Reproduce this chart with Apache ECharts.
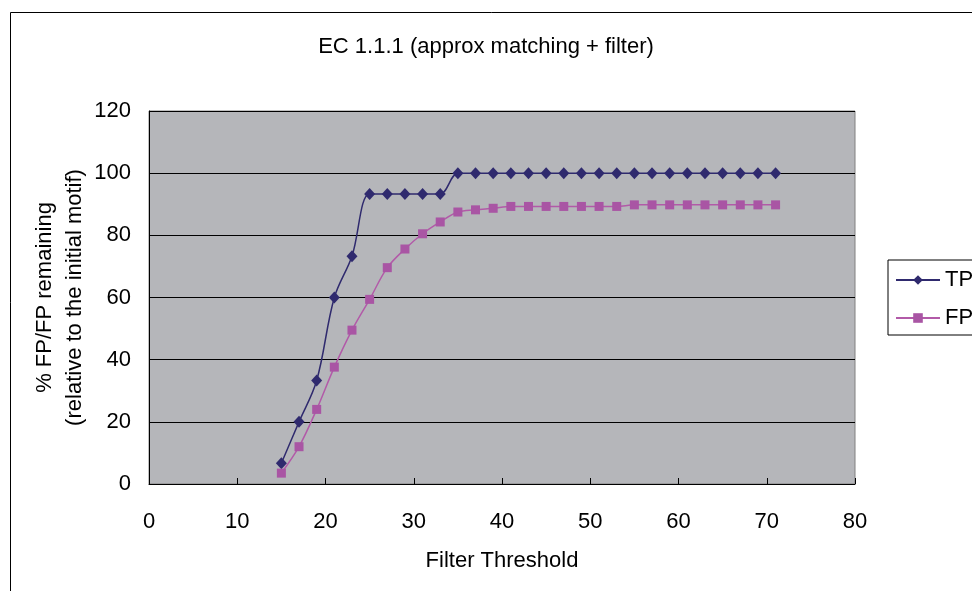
<!DOCTYPE html>
<html>
<head>
<meta charset="utf-8">
<script src="https://cdn.jsdelivr.net/npm/echarts@6/dist/echarts.min.js"></script>
<style>html,body{margin:0;padding:0;background:#fff}#c{width:972px;height:591px}</style>
</head>
<body>
<div id="c"></div>
<script>
const thresholds = [15,17,19,21,23,25,27,29,31,33,35,37,39,41,43,45,47,49,51,53,55,57,59,61,63,65,67,69,71];
const tpValues = [6.7,20,33.3,60,73.3,93.3,93.3,93.3,93.3,93.3,100,100,100,100,100,100,100,100,100,100,100,100,100,100,100,100,100,100,100];
const fpValues = [3.5,12,24,37.6,49.5,59.4,69.6,75.6,80.5,84.3,87.5,88.2,88.7,89.3,89.3,89.3,89.3,89.3,89.3,89.3,89.8,89.8,89.8,89.8,89.8,89.8,89.8,89.8,89.8];
const seriesNames = ['TP','FP'];
const titleText = 'EC 1.1.1 (approx matching + filter)';
const xName = 'Filter Threshold';
const yName = '% FP/FP remaining\n(relative to the initial motif)';

const font = '"Liberation Sans Narrow", "Arial Narrow", "Liberation Sans", Arial, sans-serif';
const chart = echarts.init(document.getElementById('c'), null, {renderer:'canvas'});
chart.setOption({
  animation: false,
  backgroundColor: '#fff',
  graphic: [{
    type: 'rect', left: 8, top: 10, z: -10, silent: true,
    shape: {width: 1100, height: 700},
    style: {fill: 'none', stroke: '#000', lineWidth: 1}
  }],
  title: {
    text: titleText, left: 'center', top: 31,
    textStyle: {fontFamily: font, fontSize: 22, fontWeight: 'normal', color: '#000'}
  },
  legend: {
    orient: 'vertical', left: 888, top: 260,
    padding: [9, 40, 6, 7], itemGap: 16,
    itemWidth: 44, itemHeight: 12,
    borderColor: '#000', borderWidth: 1, backgroundColor: '#fff',
    textStyle: {fontFamily: font, fontSize: 22, color: '#000', lineHeight: 22, padding: [0,0,0,0]},
    data: seriesNames
  },
  grid: {left: 149, top: 111, width: 706, height: 373, show: true,
    backgroundColor: '#b5b6ba', borderColor: '#808080', borderWidth: 1},
  xAxis: {
    type: 'value', min: 0, max: 80, interval: 10,
    name: xName, nameLocation: 'middle', nameGap: 66,
    nameTextStyle: {fontFamily: font, fontSize: 22, color: '#000'},
    axisLine: {show: true, lineStyle: {color: '#000', width: 1}},
    axisTick: {show: true, inside: true, length: 6, lineStyle: {color: '#000'}},
    axisLabel: {fontFamily: font, fontSize: 22, color: '#000', margin: 27},
    splitLine: {show: false}
  },
  yAxis: {
    type: 'value', min: 0, max: 120, interval: 20,
    name: yName, nameLocation: 'middle', nameGap: 59, nameRotate: 90,
    nameMoveOverlap: false,
    nameTextStyle: {fontFamily: font, fontSize: 22, color: '#000', lineHeight: 30},
    axisLine: {show: true, lineStyle: {color: '#000', width: 1}},
    axisTick: {show: true, inside: true, length: 6, lineStyle: {color: '#000'}},
    axisLabel: {fontFamily: font, fontSize: 22, color: '#000', margin: 18},
    splitLine: {show: true, lineStyle: {color: '#000', width: 1}}
  },
  series: [
    {
      name: seriesNames[0], type: 'line', smooth: 0.35,
      data: thresholds.map((x,i)=>[x, tpValues[i]]),
      symbol: 'diamond', symbolSize: [11, 12],
      lineStyle: {color: '#2f2a6e', width: 1.5},
      itemStyle: {color: '#2f2a6e'}
    },
    {
      name: seriesNames[1], type: 'line', smooth: 0.35,
      data: thresholds.map((x,i)=>[x, fpValues[i]]),
      symbol: 'rect', symbolSize: 9,
      lineStyle: {color: '#b25aa8', width: 1.5},
      itemStyle: {color: '#a955a4'}
    }
  ]
});
</script>
</body>
</html>
